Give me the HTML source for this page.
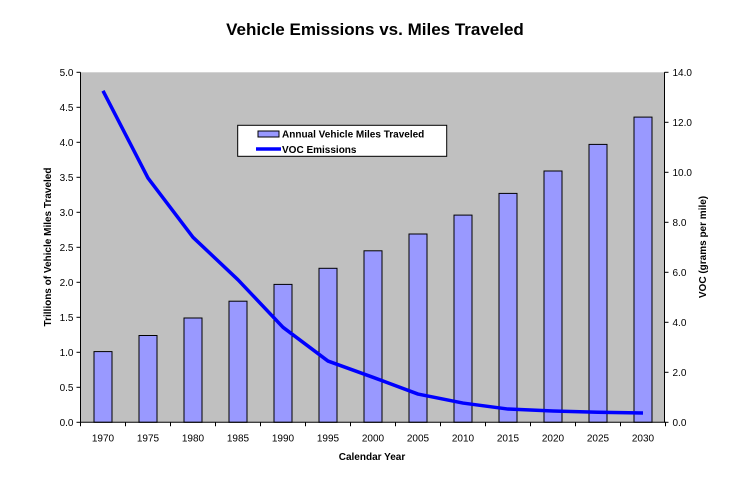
<!DOCTYPE html>
<html><head><meta charset="utf-8"><style>
body{margin:0;background:#fff;width:748px;height:486px;overflow:hidden;font-family:"Liberation Sans",Arial,sans-serif}
text{font-family:"Liberation Sans",Arial,sans-serif}
</style></head><body>
<svg id="chart" width="748" height="486" xmlns="http://www.w3.org/2000/svg">
<text x="375" y="35" text-anchor="middle" font-size="17" font-weight="bold">Vehicle Emissions vs. Miles Traveled</text>
<rect x="80.5" y="72.3" width="584" height="350" fill="#c0c0c0"/>
<g id="bars"></g>
<polyline id="voc-line" fill="none" stroke="#0000ff" stroke-width="3.5" stroke-linejoin="round"/>
<g id="axes"></g>
<text x="372" y="460" text-anchor="middle" font-size="10" font-weight="bold">Calendar Year</text>
<text transform="translate(51,247) rotate(-90)" text-anchor="middle" font-size="10" font-weight="bold">Trillions of Vehicle Miles Traveled</text>
<text transform="translate(706,247) rotate(-90)" text-anchor="middle" font-size="10" font-weight="bold">VOC (grams per mile)</text>
<g>
<rect x="237.7" y="125.3" width="209" height="31" fill="#fff" stroke="#000" stroke-width="1"/>
<rect x="258" y="131" width="21" height="6" fill="#9999ff" stroke="#000" stroke-width="1"/>
<text x="282" y="137.5" font-size="10" font-weight="bold">Annual Vehicle Miles Traveled</text>
<line x1="256" y1="149" x2="281" y2="149" stroke="#0000ff" stroke-width="3.5"/>
<text x="282" y="153" font-size="10" font-weight="bold">VOC Emissions</text>
</g>
</svg>
<script>
const years=["1970","1975","1980","1985","1990","1995","2000","2005","2010","2015","2020","2025","2030"];
const miles=[1.01,1.24,1.49,1.73,1.97,2.2,2.45,2.69,2.96,3.27,3.59,3.97,4.36];
const voc=[13.26,9.77,7.4,5.7,3.8,2.45,1.8,1.13,0.77,0.53,0.45,0.4,0.37];
const leftTicks=["0.0","0.5","1.0","1.5","2.0","2.5","3.0","3.5","4.0","4.5","5.0"];
const rightTicks=["0.0","2.0","4.0","6.0","8.0","10.0","12.0","14.0"];
const NS="http://www.w3.org/2000/svg";
const L=80.5,R=665.5,T=72.3,B=422.3,cw=(R-L)/years.length;
const yL=v=>B-v/5*(B-T), yR=v=>B-v/14*(B-T), xc=i=>L+cw*(i+0.5);
function mk(tag,attrs,parent){const e=document.createElementNS(NS,tag);for(const k in attrs)e.setAttribute(k,attrs[k]);parent.appendChild(e);return e;}
const bars=document.getElementById('bars'),axes=document.getElementById('axes');
miles.forEach((v,i)=>{const r=mk('rect',{x:xc(i)-9,y:yL(v),width:18,height:B-yL(v),fill:'#9999ff',stroke:'#000','stroke-width':1},bars);

});
document.getElementById('voc-line').setAttribute('points',voc.map((v,i)=>xc(i)+','+yR(v)).join(' '));
mk('line',{x1:L,y1:T,x2:L,y2:B,stroke:'#000'},axes);
mk('line',{x1:R-1,y1:T,x2:R-1,y2:B,stroke:'#000'},axes);
mk('line',{x1:L,y1:B,x2:R,y2:B,stroke:'#000'},axes);
leftTicks.forEach((t,i)=>{const y=yL(+t);mk('line',{x1:L-4,y1:y,x2:L,y2:y,stroke:'#000'},axes);
const tx=mk('text',{x:L-7,y:y+3.5,'text-anchor':'end','font-size':10},axes);tx.textContent=t;

});
rightTicks.forEach(t=>{const y=yR(+t);mk('line',{x1:R-1,y1:y,x2:R+3,y2:y,stroke:'#000'},axes);
const tx=mk('text',{x:R+7,y:y+3.5,'font-size':10},axes);tx.textContent=t;

});
years.forEach((yr,i)=>{const x=L+cw*i;mk('line',{x1:x,y1:B,x2:x,y2:B+4,stroke:'#000'},axes);
const tx=mk('text',{x:xc(i),y:B+19,'text-anchor':'middle','font-size':10},axes);tx.textContent=yr;

});
mk('line',{x1:R,y1:B,x2:R,y2:B+4,stroke:'#000'},axes);
</script>
</body></html>
